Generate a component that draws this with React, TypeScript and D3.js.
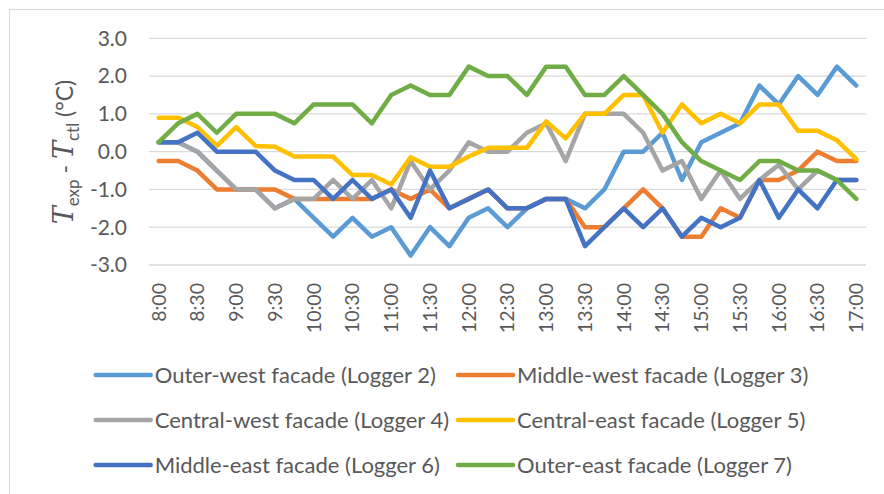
import * as d3 from "d3";

const times = [
  "8:00", "8:15", "8:30", "8:45", "9:00", "9:15", "9:30", "9:45",
  "10:00", "10:15", "10:30", "10:45", "11:00", "11:15", "11:30", "11:45",
  "12:00", "12:15", "12:30", "12:45", "13:00", "13:15", "13:30", "13:45",
  "14:00", "14:15", "14:30", "14:45", "15:00", "15:15", "15:30", "15:45",
  "16:00", "16:15", "16:30", "16:45", "17:00",
];

const outerWest = [
  0.25, 0.25, 0, -0.5, -1.0, -1.0, -1.5, -1.25, -1.75, -2.25,
  -1.75, -2.25, -2.0, -2.75, -2.0, -2.5, -1.75, -1.5, -2.0, -1.5,
  -1.25, -1.25, -1.5, -1.0, 0, 0, 0.5, -0.75, 0.25, 0.5,
  0.75, 1.75, 1.25, 2.0, 1.5, 2.25, 1.75,
];
const middleWest = [
  -0.25, -0.25, -0.5, -1.0, -1.0, -1.0, -1.0, -1.25, -1.25, -1.25,
  -1.25, -1.25, -1.0, -1.25, -1.0, -1.5, -1.25, -1.0, -1.5, -1.5,
  -1.25, -1.25, -2.0, -2.0, -1.5, -1.0, -1.5, -2.25, -2.25, -1.5,
  -1.75, -0.75, -0.75, -0.5, 0, -0.25, -0.25,
];
const centralWest = [
  0.25, 0.25, 0, -0.5, -1.0, -1.0, -1.5, -1.25, -1.25, -0.75,
  -1.25, -0.75, -1.5, -0.25, -1.0, -0.5, 0.25, 0, 0, 0.5,
  0.75, -0.25, 1.0, 1.0, 1.0, 0.5, -0.5, -0.25, -1.25, -0.5,
  -1.25, -0.75, -0.35, -1.0, -0.5, -0.75, -0.75,
];
const centralEast = [
  0.9, 0.9, 0.65, 0.15, 0.65, 0.15, 0.13, -0.13, -0.13, -0.13,
  -0.62, -0.62, -0.87, -0.15, -0.4, -0.4, -0.13, 0.1, 0.1, 0.1,
  0.8, 0.35, 1.0, 1.0, 1.5, 1.5, 0.5, 1.25, 0.75, 1.0,
  0.75, 1.25, 1.25, 0.55, 0.55, 0.3, -0.2,
];
const middleEast = [
  0.25, 0.25, 0.5, 0, 0, 0, -0.5, -0.75, -0.75, -1.25,
  -0.75, -1.25, -1.0, -1.75, -0.5, -1.5, -1.25, -1.0, -1.5, -1.5,
  -1.25, -1.25, -2.5, -2.0, -1.5, -2.0, -1.5, -2.25, -1.75, -2.0,
  -1.75, -0.75, -1.75, -1.0, -1.5, -0.75, -0.75,
];
const outerEast = [
  0.25, 0.75, 1.0, 0.5, 1.0, 1.0, 1.0, 0.75, 1.25, 1.25,
  1.25, 0.75, 1.5, 1.75, 1.5, 1.5, 2.25, 2.0, 2.0, 1.5,
  2.25, 2.25, 1.5, 1.5, 2.0, 1.5, 1.0, 0.25, -0.25, -0.5,
  -0.75, -0.25, -0.25, -0.5, -0.5, -0.75, -1.25,
];

const seriesNames = [
  "Outer-west facade (Logger 2)",
  "Middle-west facade (Logger 3)",
  "Central-west facade (Logger 4)",
  "Central-east facade (Logger 5)",
  "Middle-east facade (Logger 6)",
  "Outer-east facade (Logger 7)",
];
const seriesValues = [outerWest, middleWest, centralWest, centralEast, middleEast, outerEast];
const colors = ["#5B9BD5", "#ED7D31", "#A5A5A5", "#FFC000", "#4472C4", "#70AD47"];
const yTicks = [3, 2, 1, 0, -1, -2, -3];

const W = 884;
const H = 494;
const font = "Lato, 'Open Sans', sans-serif";
const textColor = "#595959";

export default function App() {
  const x = d3.scalePoint<string>().domain(times).range([149, 866]).padding(0.5);
  const y = d3.scaleLinear().domain([-3, 3]).range([265, 38.3]);

  const line = d3
    .line<number>()
    .x((_, i) => x(times[i]) ?? 0)
    .y((d) => y(d));

  const legendCols = [95.7, 458];
  const legendRows = [375, 420, 465];

  return (
    <svg
      width={W}
      height={H}
      style={{ position: "absolute", left: 0, top: 0, background: "#fff" }}
      fontFamily={font}
    >
      <rect x={9.5} y={9.5} width={900} height={500} fill="#fff" stroke="#d9d9d9" />

      {/* gridlines */}
      {yTicks.map((t) => (
        <line key={t} x1={149} x2={866} y1={y(t)} y2={y(t)} stroke="#d9d9d9" strokeWidth={1.3} />
      ))}

      {/* y tick labels */}
      {yTicks.map((t) => (
        <text key={t} x={127} y={y(t)} dy="0.35em" textAnchor="end" fontSize={21} fill={textColor}>
          {d3.format(".1f")(t).replace("−", "-")}
        </text>
      ))}

      {/* x tick labels */}
      {times.map((t, i) =>
        i % 2 === 0 ? (
          <text
            key={t}
            transform={`translate(${x(t)},283) rotate(-90)`}
            dy="0.35em"
            textAnchor="end"
            fontSize={19.5}
            fill={textColor}
          >
            {t}
          </text>
        ) : null
      )}

      {/* y axis title */}
      <text transform="translate(73,152) rotate(-90)" textAnchor="middle" fontSize={23} fill={textColor}>
        <tspan fontFamily="'DejaVu Serif', serif" fontStyle="italic" fontSize={27}>T</tspan>
        <tspan fontSize={17} dy={6}>exp</tspan>
        <tspan dy={-6}> - </tspan>
        <tspan fontFamily="'DejaVu Serif', serif" fontStyle="italic" fontSize={27}>T</tspan>
        <tspan fontSize={17} dy={6}>ctl</tspan>
        <tspan dy={-6}> (°C)</tspan>
      </text>

      {/* series */}
      {seriesValues.map((vals, k) => (
        <path
          key={seriesNames[k]}
          d={line(vals) ?? ""}
          fill="none"
          stroke={colors[k]}
          strokeWidth={4.5}
          strokeLinejoin="round"
          strokeLinecap="round"
        />
      ))}

      {/* legend */}
      {seriesNames.map((name, k) => {
        const lx = legendCols[k % 2];
        const ly = legendRows[Math.floor(k / 2)];
        return (
          <g key={name}>
            <line x1={lx} x2={lx + 55} y1={ly} y2={ly} stroke={colors[k]} strokeWidth={4.5} strokeLinecap="round" />
            <text x={lx + 59} y={ly} dy="0.35em" fontSize={22} fill={textColor}>
              {name}
            </text>
          </g>
        );
      })}
    </svg>
  );
}
